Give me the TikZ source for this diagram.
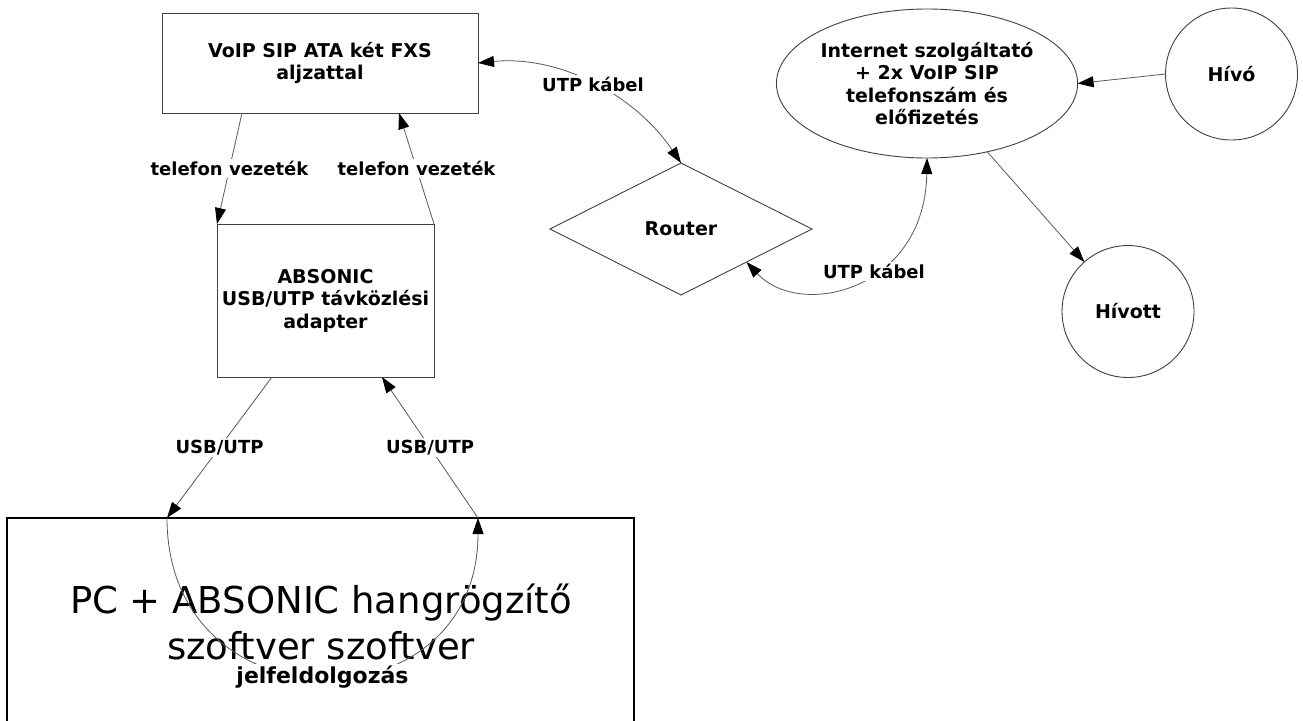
\documentclass[tikz,border=0pt]{standalone}
\usepackage{fontspec}
\setmainfont{DejaVu Sans}
\usetikzlibrary{arrows.meta,shapes.geometric,calc}
\newcommand\dfLbl{\fontsize{18}{22.5}\selectfont\bfseries}
\newcommand\dfNode{\fontsize{19}{22.5}\selectfont\bfseries}
\newcommand\dfJel{\fontsize{22}{25}\selectfont\bfseries}
\newcommand\dfBig{\fontsize{37}{46}\selectfont}
\begin{document}
\begin{tikzpicture}[x=1pt,y=-1pt,
  shp/.style={draw=black!75, line width=0.9pt, inner sep=0pt, outer sep=0pt, align=center, font=\dfNode},
  box/.style={shp, rectangle},
  conn/.style={draw=black!65, line width=0.8pt},
  lab/.style={fill=white, inner sep=2pt, font=\dfLbl},
  >={Triangle[length=16pt,width=11pt,black]}]
\useasboundingbox (0,0) rectangle (1303,720);
\clip (0,0) rectangle (1303,720);
\fill[white] (0,0) rectangle (1303,720);

\node[box, minimum width=316pt, minimum height=100pt] (ata) at (320,63) {VoIP SIP ATA két FXS\\aljzattal};
\node[box, minimum width=217pt, minimum height=153pt] (abs) at (325.5,300.5) {ABSONIC\\USB/UTP távközlési\\adapter};
\node[box, draw=black, line width=1.1pt, minimum width=627pt, minimum height=300pt] (pc) at (320.5,668) {};
\node[font=\dfBig, align=center, inner sep=0pt] (pctext) at (321,622) {PC + ABSONIC hangrögzítő\\szoftver szoftver};

\node[shp, diamond, minimum width=262pt, minimum height=132pt] (router) at (681,229) {Router};
\node[shp, ellipse, minimum width=296pt, minimum height=149pt] (isp) at (927,83.5) {Internet szolgáltató\\+ 2x VoIP SIP\\telefonszám és\\előfizetés};
\node[shp, circle, minimum size=132pt] (hivo) at (1231.5,74) {Hívó};
\node[shp, circle, minimum size=132pt] (hivott) at (1128,311.5) {Hívott};

\draw[conn,->] ([xshift=80pt]ata.south west) -- node[lab]{telefon vezeték} (abs.north west);
\draw[conn,->] (abs.north east) -- node[lab]{telefon vezeték} ([xshift=237pt]ata.south west);
\draw[conn,->] ([xshift=55pt]abs.south west) -- node[lab]{USB/UTP} ([xshift=160pt]pc.north west);
\draw[conn,->] ([xshift=160pt]pc.north west) .. controls +(0,212) and +(0,212) .. node[lab, font=\dfJel]{jelfeldolgozás} ([xshift=471pt]pc.north west);
\draw[conn,->] ([xshift=471pt]pc.north west) -- node[lab]{USB/UTP} ([xshift=165pt]abs.south west);
\draw[conn,<->] (ata.east) .. controls +(82,-8) and +(-46,-68) .. node[lab]{UTP kábel} (router.north);
\draw[conn,<->] (router.south east) .. controls +(54,58) and +(-2,132) .. node[lab,pos=0.58]{UTP kábel} (isp.south);
\draw[conn,->] (hivo.west) -- (isp.east);
\draw[conn,->] (isp) -- (hivott);
\end{tikzpicture}
\end{document}
